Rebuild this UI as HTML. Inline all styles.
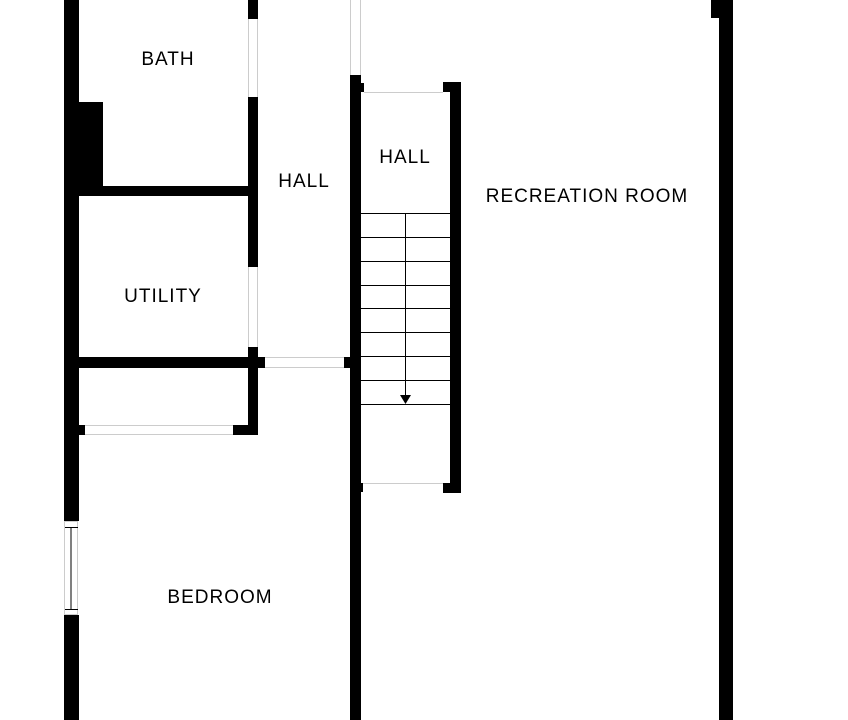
<!DOCTYPE html>
<html><head><style>
body{margin:0;background:#fff;}
svg{display:block}
text{font-family:"Liberation Sans",sans-serif;font-size:19px;fill:#000;text-anchor:middle;dominant-baseline:middle;letter-spacing:1px}
</style></head><body>
<svg width="848" height="720" viewBox="0 0 848 720" xmlns="http://www.w3.org/2000/svg">
<g fill="#000">
<rect x="64" y="0" width="15" height="521"/>
<rect x="64" y="615" width="15" height="105"/>
<rect x="78" y="102" width="25" height="90"/>
<rect x="78" y="186" width="180" height="10"/>
<rect x="248" y="0" width="10" height="19"/>
<rect x="248" y="97" width="10" height="170"/>
<rect x="248" y="347" width="10" height="88"/>
<rect x="78" y="357" width="187" height="11"/>
<rect x="344" y="357" width="8" height="11"/>
<rect x="64" y="425" width="21" height="10"/>
<rect x="233" y="425" width="25" height="10"/>
<rect x="350" y="75" width="11" height="645"/>
<rect x="361" y="83" width="3" height="9"/>
<rect x="361" y="483" width="2" height="9"/>
<rect x="443" y="82" width="18" height="10"/>
<rect x="450" y="82" width="11" height="411"/>
<rect x="443" y="483" width="18" height="10"/>
<rect x="719" y="0" width="14" height="720"/>
<rect x="711" y="0" width="8" height="18"/>
</g>
<g stroke="#ccc" stroke-width="1" fill="none">
<line x1="248.5" y1="19" x2="248.5" y2="97"/><line x1="257.5" y1="19" x2="257.5" y2="97"/>
<line x1="248.5" y1="267" x2="248.5" y2="347"/><line x1="257.5" y1="267" x2="257.5" y2="347"/>
<line x1="265" y1="357.5" x2="344" y2="357.5"/><line x1="265" y1="367.5" x2="344" y2="367.5"/>
<line x1="85" y1="425.5" x2="233" y2="425.5"/><line x1="85" y1="434.5" x2="233" y2="434.5"/>
<line x1="350.5" y1="0" x2="350.5" y2="75"/><line x1="360.5" y1="0" x2="360.5" y2="75"/>
<line x1="364" y1="92.5" x2="443" y2="92.5"/>
<line x1="363" y1="483.5" x2="443" y2="483.5"/>
<rect x="64.5" y="521.5" width="13" height="93"/>
</g>
<g stroke="#000" stroke-width="1">
<line x1="71" y1="527" x2="71" y2="609"/>
<line x1="65" y1="527.5" x2="78" y2="527.5"/><line x1="65" y1="609.5" x2="78" y2="609.5"/>
<line x1="361" y1="213.5" x2="450" y2="213.5"/>
<line x1="361" y1="237.5" x2="450" y2="237.5"/>
<line x1="361" y1="261.5" x2="450" y2="261.5"/>
<line x1="361" y1="285.5" x2="450" y2="285.5"/>
<line x1="361" y1="308.5" x2="450" y2="308.5"/>
<line x1="361" y1="332.5" x2="450" y2="332.5"/>
<line x1="361" y1="356.5" x2="450" y2="356.5"/>
<line x1="361" y1="380.5" x2="450" y2="380.5"/>
<line x1="361" y1="404.5" x2="450" y2="404.5"/>
<line x1="405.5" y1="213" x2="405.5" y2="398"/>
</g>
<polygon points="400,395 411,395 405.5,404" fill="#000"/>
<text x="168" y="60">BATH</text>
<text x="304" y="182">HALL</text>
<text x="405" y="158">HALL</text>
<text x="587" y="197">RECREATION ROOM</text>
<text x="163" y="297">UTILITY</text>
<text x="220" y="598">BEDROOM</text>
</svg>
</body></html>
